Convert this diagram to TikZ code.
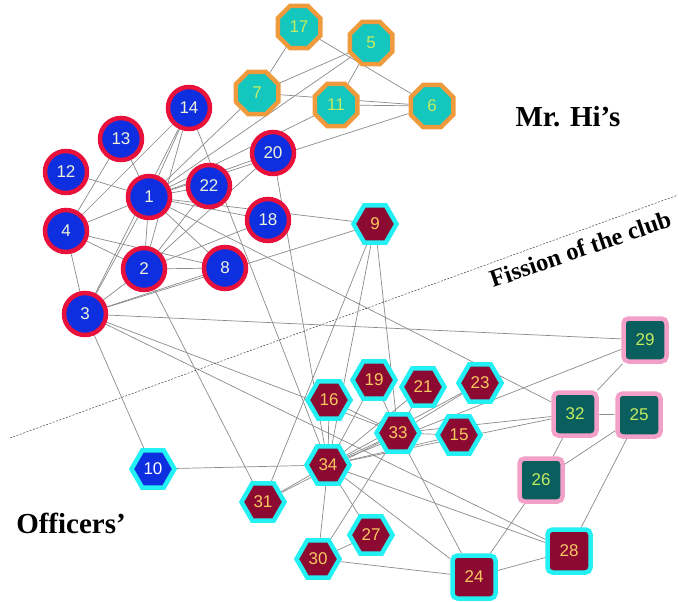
\documentclass[tikz,border=0pt]{standalone}
\usepackage{fontspec}
\setmainfont{Liberation Sans}
\newfontfamily\labelfont{Liberation Serif}
\usetikzlibrary{shapes.geometric,backgrounds}
\definecolor{hiblue}{HTML}{0D2FE0}
\definecolor{hired}{HTML}{E8113C}
\definecolor{hitext}{HTML}{EEF2D8}
\definecolor{octfill}{HTML}{13C6BE}
\definecolor{octorange}{HTML}{F09A3E}
\definecolor{octtext}{HTML}{C4EC60}
\definecolor{maroon}{HTML}{8C0A32}
\definecolor{hexcyan}{HTML}{22F0F2}
\definecolor{hextext}{HTML}{F8C860}
\definecolor{sqpink}{HTML}{F2A0C8}
\definecolor{sqteal}{HTML}{0A5E5E}
\definecolor{edgegray}{HTML}{8A8A8A}
\tikzset{
  edge/.style={draw=edgegray, line width=0.7pt},
  numfont/.style={font=\fontsize{17}{17}\selectfont},
  hinode/.style={circle, draw=hired, fill=hiblue, line width=4.5pt, minimum size=42pt, inner sep=0pt, text=hitext, numfont},
  octnode/.style={regular polygon, regular polygon sides=8, draw=octorange, fill=octfill, line width=4.5pt, minimum size=46pt, inner sep=0pt, text=octtext, numfont},
  hexnode/.style={regular polygon, regular polygon sides=6, draw=hexcyan, fill=maroon, line width=4.5pt, minimum size=43pt, inner sep=0pt, text=hextext, numfont},
  bluehex/.style={hexnode, fill=hiblue, text=white},
  sqnode/.style={rectangle, rounded corners=5pt, draw=sqpink, fill=sqteal, line width=4.5pt, minimum size=43pt, inner sep=0pt, text=octtext, numfont},
  offsq/.style={sqnode, draw=hexcyan, fill=maroon, text=hextext},
  biglabel/.style={font=\labelfont\bfseries\fontsize{29}{29}\selectfont, text=black, inner sep=0pt},
  fissionlabel/.style={font=\labelfont\bfseries\fontsize{24.5}{24.5}\selectfont, text=black, inner sep=0pt},
  divider/.style={draw=black!75, line width=0.5pt, dash pattern=on 2pt off 1.5pt}
}
\begin{document}
\begin{tikzpicture}[x=1pt,y=-1pt]
\useasboundingbox (0,0) rectangle (678,602);
% Mr. Hi's group
\node[hinode] (n1) at (149,197) {1};
\node[hinode] (n2) at (144,269) {2};
\node[hinode] (n3) at (85,314) {3};
\node[hinode] (n4) at (66,231) {4};
\node[hinode] (n8) at (225,268) {8};
\node[hinode] (n12) at (66,172) {12};
\node[hinode] (n13) at (121,139) {13};
\node[hinode] (n14) at (189,108) {14};
\node[hinode] (n18) at (268,220) {18};
\node[hinode] (n20) at (273,153) {20};
\node[hinode] (n22) at (209,186) {22};
\node[octnode] (n5) at (371,43) {5};
\node[octnode] (n6) at (432,106) {6};
\node[octnode] (n7) at (257,93) {7};
\node[octnode] (n11) at (336,105) {11};
\node[octnode] (n17) at (299,27) {17};
% Officers' group
\node[hexnode] (n9) at (375,224) {9};
\node[bluehex] (n10) at (153,469) {10};
\node[hexnode] (n15) at (459,435) {15};
\node[hexnode] (n16) at (329,400) {16};
\node[hexnode] (n19) at (374,380) {19};
\node[hexnode] (n21) at (423,387) {21};
\node[hexnode] (n23) at (480,383) {23};
\node[hexnode] (n27) at (371,535) {27};
\node[hexnode] (n30) at (318,559) {30};
\node[hexnode] (n31) at (263,502) {31};
\node[hexnode] (n33) at (398,433) {33};
\node[hexnode] (n34) at (328,465) {34};
\node[offsq] (n24) at (474,577) {24};
\node[offsq] (n28) at (569,551) {28};
\node[sqnode] (n25) at (639,415) {25};
\node[sqnode] (n26) at (541,480) {26};
\node[sqnode] (n29) at (645,340) {29};
\node[sqnode] (n32) at (575,414) {32};
% edges
\begin{scope}[on background layer]
\foreach \a/\b in {1/2,1/3,1/4,1/5,1/6,1/7,1/8,1/9,1/11,1/12,1/13,1/14,1/18,1/20,1/22,1/32,
  2/3,2/4,2/8,2/14,2/18,2/20,2/22,2/31,
  3/4,3/8,3/9,3/10,3/14,3/28,3/29,3/33,
  4/8,4/13,4/14,5/7,5/11,6/7,6/11,6/17,7/17,
  9/31,9/33,9/34,10/34,14/34,15/33,15/34,16/33,16/34,19/33,19/34,20/34,21/33,21/34,23/33,23/34,
  24/26,24/28,24/30,24/33,24/34,25/26,25/28,25/32,26/32,27/30,27/34,28/34,29/32,29/34,
  30/33,30/34,31/33,31/34,32/33,32/34,33/34}
  \draw[edge] (n\a) -- (n\b);
\coordinate (dl1) at (10,438);
\coordinate (dl2) at (678,195);
\draw[divider] (dl1) -- (dl2);
\end{scope}
% labels
\node[biglabel, anchor=base] (mrhi) at (568,126) {Mr. Hi’s};
\node[biglabel, anchor=base] (officers) at (71,533) {Officers’};
\node[fissionlabel, anchor=base, rotate=19] (fission) at (583,257) {Fission of the club};
\end{tikzpicture}
\end{document}
